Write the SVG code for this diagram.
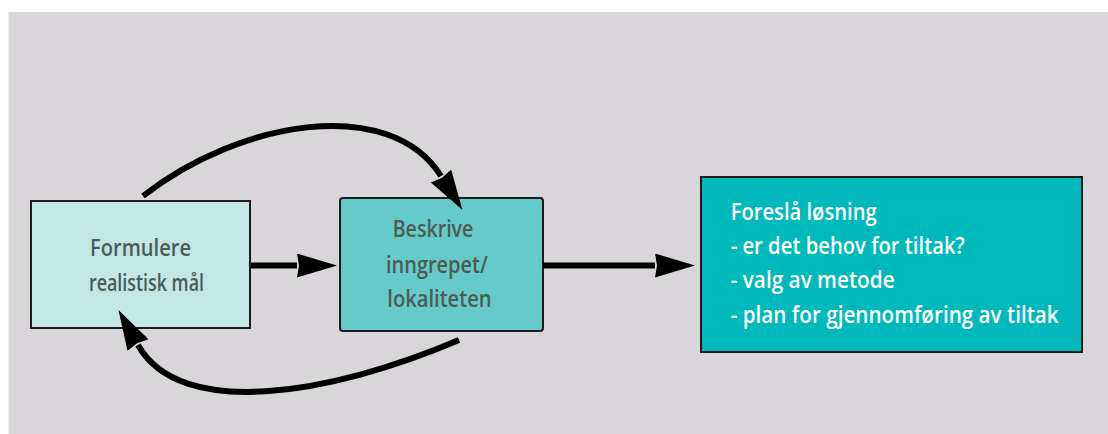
<svg xmlns="http://www.w3.org/2000/svg" width="1108" height="434" viewBox="0 0 1108 434">
  <style>
    .box { stroke: #1c1c1c; stroke-width: 2; }
    .dark { font-family: "Open Sans", "Liberation Sans", sans-serif; font-weight: 600; font-size: 23.5px; fill: #4a5d55; }
    .light { font-family: "Open Sans", "Liberation Sans", sans-serif; font-weight: 600; font-size: 22.5px; fill: #ffffff; }
    .conn { fill: none; stroke: #000; stroke-width: 6; }
  </style>
  <defs>
    <marker id="ah" markerUnits="userSpaceOnUse" markerWidth="42" markerHeight="26" refX="0" refY="12" orient="auto" viewBox="0 0 42 26">
      <path d="M0,0 L40,12 L0,24 L2,12 z" fill="#000"/>
    </marker>
  </defs>
  <rect x="0" y="0" width="1108" height="434" fill="#ffffff"/>
  <rect x="8.5" y="12" width="1100" height="422" fill="#d9d6da"/>

  <g id="node-formulere">
    <rect class="box" x="31" y="201" width="219" height="127" fill="#c2e7e4"/>
    <text class="dark" x="140.5" y="255.7" text-anchor="middle" textLength="101" lengthAdjust="spacingAndGlyphs">Formulere</text>
    <text class="dark" x="146.5" y="291" text-anchor="middle" textLength="115" lengthAdjust="spacingAndGlyphs">realistisk mål</text>
  </g>

  <g id="node-beskrive">
    <rect class="box" x="340" y="198" width="203" height="133" rx="3" fill="#66cacb"/>
    <text class="dark" x="392.7" y="237.3" textLength="80.7" lengthAdjust="spacingAndGlyphs">Beskrive</text>
    <text class="dark" x="386" y="273.3" textLength="101.7" lengthAdjust="spacingAndGlyphs">inngrepet/</text>
    <text class="dark" x="387.3" y="307.3" textLength="104.3" lengthAdjust="spacingAndGlyphs">lokaliteten</text>
  </g>

  <g id="node-foresla">
    <rect class="box" x="701" y="177" width="381" height="175" fill="#00b9bb"/>
    <text class="light" x="730.7" y="220" textLength="146" lengthAdjust="spacingAndGlyphs">Foreslå løsning</text>
    <text class="light" x="730.7" y="253.5" textLength="234" lengthAdjust="spacingAndGlyphs">- er det behov for tiltak?</text>
    <text class="light" x="730.7" y="288" textLength="164" lengthAdjust="spacingAndGlyphs">- valg av metode</text>
    <text class="light" x="730.7" y="323.3" textLength="328" lengthAdjust="spacingAndGlyphs">- plan for gjennomføring av tiltak</text>
  </g>

  <g id="connectors">
    <path class="conn" d="M251,265.5 L297,265.5" marker-end="url(#ah)"/>
    <path class="conn" d="M543,265.5 L655,265.5" marker-end="url(#ah)"/>
    <path class="conn" d="M143,196 C240,120 390,95 441,176" marker-end="url(#ah)"/>
    <path class="conn" d="M459,340 C330,395 180,420 138,345" marker-end="url(#ah)"/>
  </g>
</svg>
